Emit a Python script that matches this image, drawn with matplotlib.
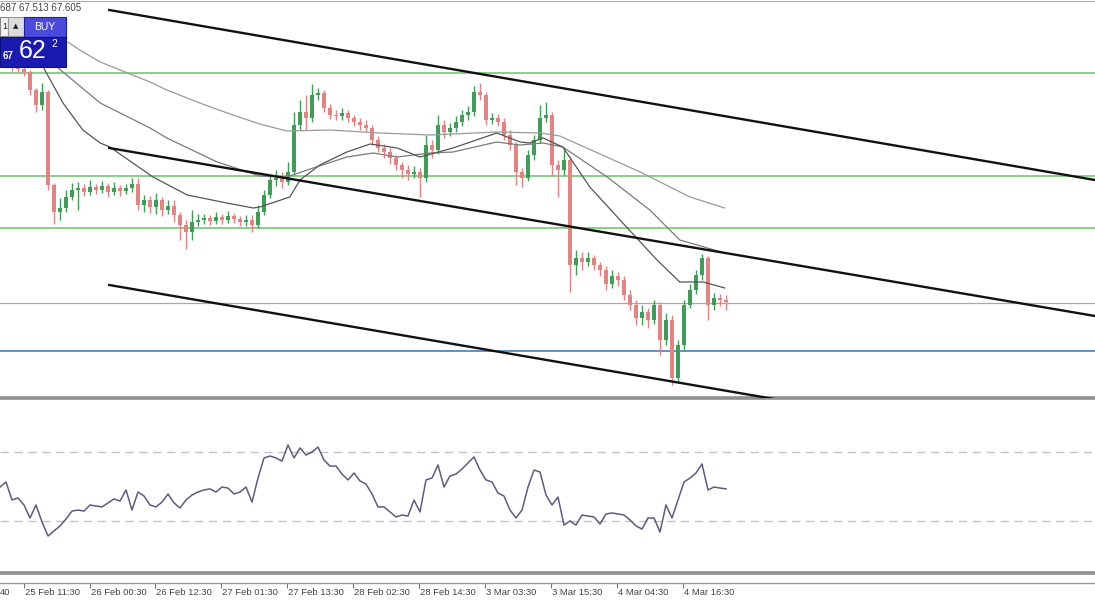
import numpy as np
import matplotlib
matplotlib.use('Agg')
import matplotlib.pyplot as plt
from matplotlib.patches import Rectangle

# ---- candle data (M30 bars, one entry per bar) ----
close = [69.96, 69.95, 69.92, 69.74, 69.59, 69.72, 68.79, 68.52, 68.56, 68.67,
         68.74, 68.76, 68.72, 68.77, 68.74, 68.78, 68.72, 68.76, 68.73, 68.76,
         68.80, 68.59, 68.64, 68.57, 68.64, 68.54, 68.58, 68.49, 68.39, 68.32,
         68.42, 68.44, 68.46, 68.43, 68.47, 68.44, 68.48, 68.45, 68.42, 68.44,
         68.39, 68.52, 68.69, 68.84, 68.86, 68.82, 68.92, 69.39, 69.52, 69.46,
         69.69, 69.71, 69.56, 69.49, 69.48, 69.51, 69.46, 69.42, 69.39, 69.36,
         69.24, 69.16, 69.12, 69.06, 68.99, 68.94, 68.90, 68.92, 68.86, 69.19,
         69.14, 69.39, 69.32, 69.36, 69.42, 69.49, 69.52, 69.72, 69.69, 69.44,
         69.46, 69.42, 69.29, 69.19, 68.92, 68.86, 69.09, 69.24, 69.46, 69.49,
         68.99, 68.94, 69.04, 67.99, 68.06, 68.02, 68.06, 67.99, 67.94, 67.80,
         67.88, 67.84, 67.69, 67.59, 67.46, 67.52, 67.44, 67.59, 67.24, 67.44,
         66.86, 67.19, 67.59, 67.74, 67.89, 68.06, 67.59, 67.66, 67.64, 67.62]
high = [70.00, 69.99, 69.97, 69.94, 69.76, 69.81, 69.74, 68.81, 68.66, 68.74,
        68.81, 68.82, 68.80, 68.84, 68.80, 68.83, 68.81, 68.82, 68.79, 68.80,
        68.86, 68.86, 68.69, 68.68, 68.71, 68.67, 68.64, 68.64, 68.52, 68.44,
        68.54, 68.50, 68.50, 68.49, 68.52, 68.50, 68.53, 68.51, 68.48, 68.49,
        68.49, 68.59, 68.74, 68.88, 68.94, 68.92, 69.02, 69.52, 69.64, 69.69,
        69.80, 69.76, 69.74, 69.60, 69.54, 69.56, 69.54, 69.49, 69.46, 69.44,
        69.39, 69.28, 69.20, 69.16, 69.09, 69.02, 68.99, 68.98, 68.96, 69.29,
        69.24, 69.49, 69.44, 69.41, 69.48, 69.54, 69.58, 69.78, 69.81, 69.72,
        69.51, 69.50, 69.46, 69.34, 69.22, 68.96, 69.14, 69.29, 69.59, 69.62,
        69.52, 69.04, 69.14, 69.08, 68.14, 68.12, 68.12, 68.09, 68.02, 67.98,
        67.94, 67.92, 67.88, 67.74, 67.64, 67.59, 67.56, 67.64, 67.62, 67.51,
        67.49, 67.24, 67.64, 67.80, 67.94, 68.10, 68.08, 67.71, 67.70, 67.69]
low = [69.93, 69.92, 69.88, 69.69, 69.52, 69.54, 68.74, 68.40, 68.44, 68.52,
       68.64, 68.54, 68.68, 68.69, 68.70, 68.71, 68.67, 68.69, 68.68, 68.70,
       68.72, 68.54, 68.52, 68.51, 68.50, 68.48, 68.50, 68.42, 68.24, 68.15,
       68.24, 68.38, 68.40, 68.39, 68.40, 68.40, 68.41, 68.41, 68.38, 68.38,
       68.32, 68.36, 68.49, 68.66, 68.78, 68.76, 68.79, 68.89, 69.34, 69.34,
       69.42, 69.64, 69.52, 69.45, 69.44, 69.44, 69.42, 69.38, 69.34, 69.32,
       69.19, 69.12, 69.06, 69.00, 68.94, 68.86, 68.84, 68.86, 68.67, 68.82,
       69.06, 69.10, 69.26, 69.28, 69.32, 69.38, 69.44, 69.48, 69.64, 69.39,
       69.40, 69.38, 69.24, 69.14, 68.79, 68.77, 68.83, 69.04, 69.21, 69.42,
       68.89, 68.67, 68.89, 67.72, 67.89, 67.94, 67.98, 67.94, 67.88, 67.74,
       67.76, 67.78, 67.64, 67.54, 67.39, 67.39, 67.36, 67.40, 67.09, 67.19,
       66.79, 66.82, 67.14, 67.56, 67.70, 67.84, 67.44, 67.54, 67.58, 67.54]
first_open = 69.97

# ---- moving averages (bar position, price) ----
ma_fast_x = [5.2, 8.5, 11.8, 14.7, 16.3, 23.5, 29.2, 35.8, 40.2, 41.3, 46.3, 48.0, 51.3, 55.8, 59.7,
             64.2, 68.0, 73.5, 80.8, 84.7, 86.3, 88.5, 91.8, 96.3, 101.8, 107.5, 111.3, 115.2, 118.8]
ma_fast_y = [69.97, 69.61, 69.34, 69.21, 69.17, 68.87, 68.69, 68.61, 68.56, 68.57, 68.67, 68.84, 68.99,
             69.12, 69.20, 69.16, 69.07, 69.16, 69.31, 69.22, 69.21, 69.26, 69.17, 68.77, 68.41, 68.04,
             67.82, 67.82, 67.76]
ma_mid_x = [7.7, 14.7, 23.0, 25.8, 34.2, 41.3, 45.8, 50.2, 55.8, 60.2, 64.2, 69.7, 73.5, 80.8, 84.7,
            88.5, 91.8, 99.2, 106.3, 111.3, 118.8]
ma_mid_y = [69.96, 69.61, 69.36, 69.26, 69.02, 68.88, 68.87, 68.96, 69.07, 69.11, 69.07, 69.11, 69.12,
            69.22, 69.19, 69.21, 69.17, 68.87, 68.54, 68.24, 68.11]
ma_slow_x = [9.3, 11.3, 14.7, 23.0, 25.8, 31.3, 36.8, 41.3, 45.8, 53.0, 61.3, 69.7, 80.8, 88.0, 91.3,
             104.7, 113.0, 118.8]
ma_slow_y = [70.22, 70.14, 70.02, 69.82, 69.74, 69.61, 69.49, 69.40, 69.33, 69.34, 69.31, 69.29, 69.32,
             69.31, 69.28, 68.92, 68.67, 68.56]

# ---- drawn objects ----
channel_x = [16.2, 180.5]
channel_upper = [70.54, 68.84]
channel_mid = [69.16, 67.48]
channel_low = [67.79, 66.10]
green_levels = [69.91, 68.88, 68.36]
bid_level = 67.61
blue_level = 67.13

# ---- RSI, one value per bar, first bar at position -2 ----
rsi = [49.7, 52.6, 42.2, 43.4, 39.3, 31.8, 39.3, 29.5, 21.4, 24.3, 27.2, 31.2, 35.8, 36.4, 35.8,
       39.3, 38.7, 38.2, 40.5, 42.8, 41.6, 48.0, 36.4, 46.8, 44.5, 39.3, 38.2, 41.0, 45.7, 40.5,
       37.6, 42.2, 45.1, 46.8, 48.0, 48.6, 46.8, 49.7, 49.1, 45.7, 46.8, 49.7, 41.0, 54.9, 66.5,
       67.6, 66.5, 64.7, 74.0, 66.5, 72.3, 68.2, 69.9, 72.8, 65.3, 61.8, 61.8, 57.2, 53.8, 57.8,
       53.2, 51.4, 45.7, 38.2, 38.2, 35.3, 32.4, 33.5, 32.9, 42.2, 35.3, 53.8, 54.9, 62.4, 49.7,
       56.1, 57.2, 60.1, 63.6, 67.1, 59.5, 53.8, 52.6, 46.2, 44.5, 36.4, 31.8, 36.4, 49.7, 59.5,
       58.4, 45.1, 39.3, 43.9, 27.7, 30.1, 27.7, 33.5, 32.9, 32.4, 28.3, 34.1, 34.7, 34.1, 33.5,
       30.6, 27.2, 25.4, 31.8, 31.8, 23.7, 39.3, 31.8, 42.2, 52.6, 54.9, 57.8, 63.0, 48.0, 49.7,
       49.1, 48.6]
rsi_levels = [70, 30]

tick_pos = [2.0, 13.0, 23.8, 34.8, 45.8, 56.8, 67.8, 78.8, 89.8, 100.8, 111.8]
tick_labels = ['25 Feb 11:30', '26 Feb 00:30', '26 Feb 12:30', '27 Feb 01:30', '27 Feb 13:30',
               '28 Feb 02:30', '28 Feb 14:30', '3 Mar 03:30', '3 Mar 15:30', '4 Mar 04:30',
               '4 Mar 16:30']

W, H = 1095, 600
xlim = (-2.0, 180.5)
plt.rcParams['font.family'] = ['Liberation Sans', 'DejaVu Sans']

fig = plt.figure(figsize=(W / 100, H / 100), dpi=100)
fig.patch.set_facecolor('white')


def fbox(x0, y0, x1, y1):
    # pixel box (top-left origin) -> figure fraction rect
    return [x0 / W, 1 - y1 / H, (x1 - x0) / W, (y1 - y0) / H]


ax = fig.add_axes(fbox(0, 1, W, 398))
ax.set_xlim(*xlim)
ax.set_ylim(66.66, 70.63)

close = np.array(close)
high = np.array(high)
low = np.array(low)
opn = np.r_[first_open, close[:-1]]
xs = np.arange(len(close))
up = close >= opn
bull, bear = '#3f9d57', '#e58383'
cols = np.where(up, bull, bear)

for lv in green_levels:
    ax.axhline(lv, color='#6cc06c', lw=1.1, zorder=1)
ax.axhline(bid_level, color='#a8a8a8', lw=0.9, zorder=1)
ax.axhline(blue_level, color='#3f7fba', lw=1.2, zorder=1)

ax.vlines(xs, low, high, colors=cols, lw=1.0, zorder=2)
body = np.maximum(np.abs(close - opn), 0.008)
ax.bar(xs, body, bottom=np.minimum(close, opn), width=0.62, color=cols, lw=0, zorder=3)

ax.plot(ma_slow_x, ma_slow_y, color='#9a9a9a', lw=0.9, zorder=4)
ax.plot(ma_mid_x, ma_mid_y, color='#7a7a7a', lw=0.9, zorder=4)
ax.plot(ma_fast_x, ma_fast_y, color='#555555', lw=0.9, zorder=4)

for cy in (channel_upper, channel_mid, channel_low):
    ax.plot(channel_x, cy, color='#111111', lw=1.7, zorder=5)

ax.set_xticks([])
ax.set_yticks([])
for s in ('left', 'right'):
    ax.spines[s].set_visible(False)
ax.spines['top'].set_color('#b0b0b0')
ax.spines['top'].set_linewidth(0.8)
ax.spines['bottom'].set_color('#8f8f8f')
ax.spines['bottom'].set_linewidth(2.6)

# RSI panel
ar = fig.add_axes(fbox(0, 400, W, 573))
ar.set_xlim(*xlim)
ar.set_ylim(0, 100)
for lv in rsi_levels:
    ar.axhline(lv, color='#c4c4c4', lw=1.0, ls=(0, (6, 4)))
ar.plot(np.arange(len(rsi)) - 2, rsi, color='#5c5c80', lw=1.1)
ar.set_xticks([])
ar.set_yticks([])
for s in ('left', 'right', 'top'):
    ar.spines[s].set_visible(False)
ar.spines['bottom'].set_color('#8f8f8f')
ar.spines['bottom'].set_linewidth(2.6)

# time scale
at = fig.add_axes(fbox(0, 583, W, 600))
at.set_xlim(*xlim)
at.set_ylim(0, 1)
at.set_xticks([])
at.set_yticks([])
for s in ('left', 'right', 'bottom'):
    at.spines[s].set_visible(False)
at.spines['top'].set_color('#9a9a9a')
at.spines['top'].set_linewidth(1.0)
at.vlines(tick_pos, 0.72, 1.0, color='#777777', lw=0.8)
for p, lab in zip(tick_pos, tick_labels):
    at.text(p + 0.15, 0.45, lab, fontsize=6.8, color='#444444', va='center', ha='left')
at.text(-2.0, 0.45, '40', fontsize=6.8, color='#444444', va='center', ha='left')

# one-click trading widget and header
fig.text(0 / W, 1 - 8 / H, '687 67.513 67.605', fontsize=7, color='#444444', va='center', ha='left')
fig.patches.append(Rectangle(fbox(0, 17, 8, 36)[:2], 8 / W, 19 / H, transform=fig.transFigure,
                             facecolor='#f4f4f4', edgecolor='#888888', lw=0.8))
fig.text(2 / W, 1 - 26.5 / H, '1', fontsize=6.5, color='#222222', va='center', ha='left')
fig.patches.append(Rectangle(fbox(8, 17, 24, 36)[:2], 16 / W, 19 / H, transform=fig.transFigure,
                             facecolor='#dcdcdc', edgecolor='#9a9a9a', lw=0.8))
fig.text(16 / W, 1 - 26 / H, '▲', fontsize=5, color='#222222', va='center', ha='center',
         family='DejaVu Sans')
fig.patches.append(Rectangle(fbox(24, 17, 66, 37)[:2], 42 / W, 20 / H, transform=fig.transFigure,
                             facecolor='#4a4adc', edgecolor='#2020a0', lw=0.8))
fig.text(45 / W, 1 - 26.5 / H, 'BUY', fontsize=7.5, color='white', va='center', ha='center')
fig.patches.append(Rectangle(fbox(0, 37, 66, 67)[:2], 66 / W, 30 / H, transform=fig.transFigure,
                             facecolor='#1a1ab0', edgecolor='#10107a', lw=0.8))
fig.text(3 / W, 1 - 56 / H, '67', fontsize=7, color='white', va='center', ha='left', weight='bold')
fig.text(19 / W, 1 - 51 / H, '62', fontsize=18, color='white', va='center', ha='left')
fig.text(51 / W, 1 - 44 / H, '2', fontsize=7.5, color='white', va='center', ha='left')

fig.savefig('out.png', dpi=100, facecolor='white')
